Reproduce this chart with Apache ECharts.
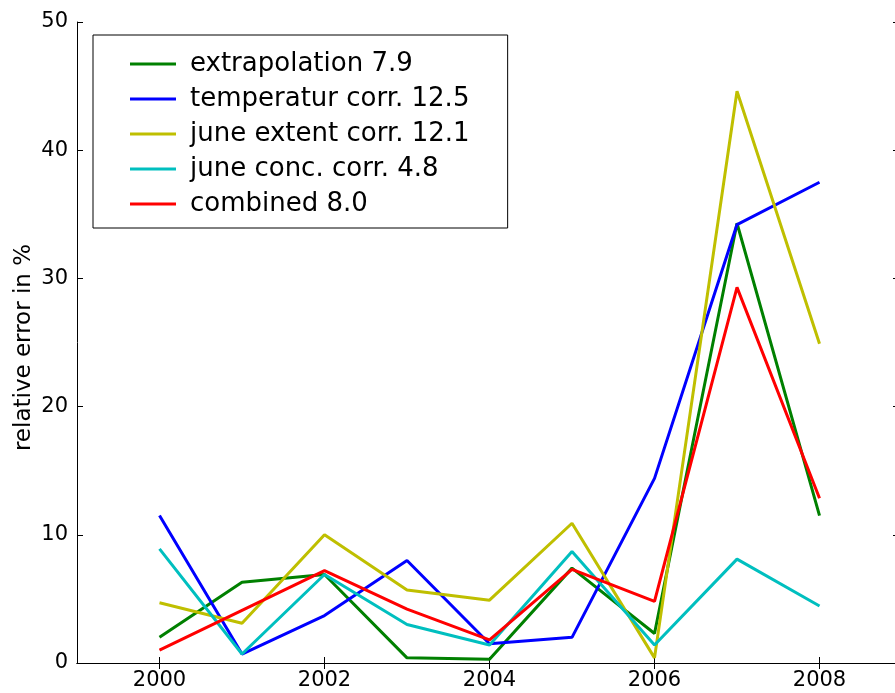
<!DOCTYPE html>
<html>
<head>
<meta charset="utf-8">
<script src="https://cdn.jsdelivr.net/npm/echarts@6/dist/echarts.min.js"></script>
<style>html,body{margin:0;padding:0;background:#fff;}#c{width:895px;height:693px;}</style>
</head>
<body>
<div id="c"></div>
<script>
const years = [2000, 2001, 2002, 2003, 2004, 2005, 2006, 2007, 2008];
const xTicks = [2000, 2002, 2004, 2006, 2008];
const yTicks = [0, 10, 20, 30, 40, 50];
const extrapolation = [2.0, 6.3, 6.9, 0.4, 0.3, 7.4, 2.3, 34.3, 11.5];
const temperatur = [11.5, 0.7, 3.7, 8.0, 1.5, 2.0, 14.4, 34.2, 37.5];
const juneExtent = [4.7, 3.1, 10.0, 5.7, 4.9, 10.9, 0.4, 44.6, 24.9];
const juneConc = [8.9, 0.7, 6.9, 3.0, 1.4, 8.7, 1.4, 8.1, 4.45];
const combined = [1.0, 4.1, 7.2, 4.2, 1.8, 7.3, 4.8, 29.3, 12.85];
const names = ['extrapolation 7.9', 'temperatur corr. 12.5', 'june extent corr. 12.1', 'june conc. corr. 4.8', 'combined 8.0'];
const colors = ['#008000', '#0000ff', '#bfbf00', '#00bfbf', '#ff0000'];
const values = [extrapolation, temperatur, juneExtent, juneConc, combined];

const FONT = 'DejaVu Sans';
const chart = echarts.init(document.getElementById('c'), null, {renderer: 'canvas'});
const axisLine = {show: true, lineStyle: {color: '#000', width: 1}};
const tick = {show: true, inside: true, length: 6, lineStyle: {color: '#000', width: 1}};
// the visible window ends just before the 2009 right spine
const X_MIN = 1999, X_MAX = 2008.915;

chart.setOption({
  animation: false,
  backgroundColor: '#fff',
  textStyle: {fontFamily: FONT},
  grid: {left: 77, top: 22, right: 0, bottom: 30},
  legend: {
    orient: 'vertical',
    left: 93, top: 35,
    backgroundColor: '#fff',
    borderColor: '#000', borderWidth: 1, borderRadius: 0,
    padding: [16, 38, 11, 37],
    itemWidth: 46, itemHeight: 3, itemGap: 9,
    icon: 'rect',
    textStyle: {fontFamily: FONT, fontSize: 26, color: '#000', lineHeight: 25, padding: [0, 0, 0, 9]},
    data: names
  },
  xAxis: [
    {type: 'value', min: X_MIN, max: X_MAX, position: 'bottom',
     axisLine: axisLine, axisTick: Object.assign({customValues: xTicks}, tick),
     axisLabel: {customValues: xTicks, formatter: v => String(v), fontFamily: FONT, fontSize: 21, color: '#000', margin: 7},
     splitLine: {show: false}},
    {type: 'value', min: X_MIN, max: X_MAX, position: 'top',
     axisLine: axisLine, axisTick: Object.assign({customValues: xTicks}, tick),
     axisLabel: {show: false}, splitLine: {show: false}}
  ],
  yAxis: [
    {type: 'value', min: yTicks[0], max: yTicks[yTicks.length - 1], interval: 10, position: 'left',
     name: 'relative error in %', nameLocation: 'middle', nameGap: 41, nameMoveOverlap: false,
     nameTextStyle: {fontFamily: FONT, fontSize: 23, color: '#000', padding: [0, 10, 0, 0]},
     axisLine: axisLine, axisTick: tick,
     axisLabel: {fontFamily: FONT, fontSize: 21, color: '#000', margin: 9},
     splitLine: {show: false}},
    {type: 'value', min: yTicks[0], max: yTicks[yTicks.length - 1], interval: 10, position: 'right',
     axisLine: {show: false},
     axisTick: {show: true, inside: true, length: 2, lineStyle: {color: '#000', width: 1}},
     axisLabel: {show: false}, splitLine: {show: false}}
  ],
  series: values.map((v, i) => ({
    name: names[i],
    type: 'line',
    xAxisIndex: 0, yAxisIndex: 0,
    data: years.map((y, j) => [y, v[j]]),
    showSymbol: false, symbol: 'none',
    lineStyle: {color: colors[i], width: 3},
    itemStyle: {color: colors[i]},
    color: colors[i]
  }))
});
</script>
</body>
</html>
